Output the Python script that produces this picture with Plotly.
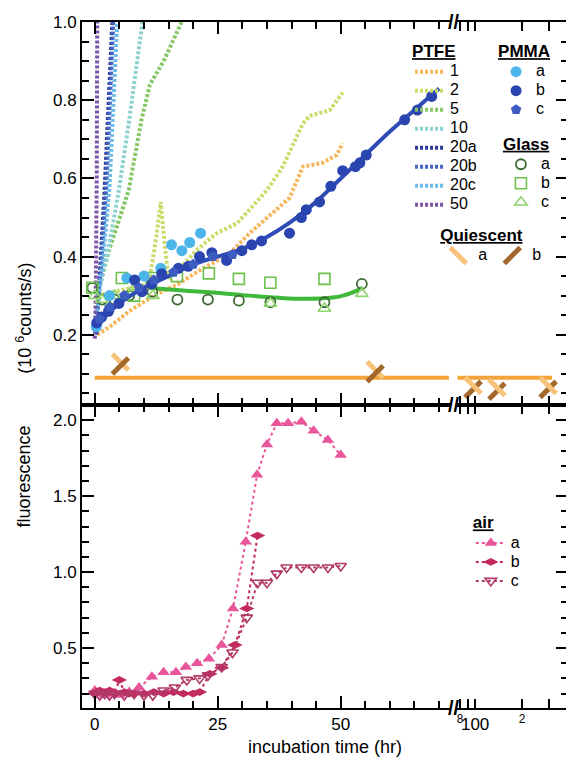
import plotly.graph_objects as go

# ---------------- data (hours, 10^6 counts/s) ----------------
# PTFE runs (dotted lines)
ptfe1_x = [0.5, 3, 7, 12, 17, 22, 25, 28, 31.5, 35, 39.6, 42.3, 46.3, 49.2, 50.4]
ptfe1_y = [0.20, 0.22, 0.26, 0.30, 0.33, 0.37, 0.39, 0.415, 0.46, 0.50, 0.55, 0.63, 0.64, 0.66, 0.69]
ptfe2_x = [0.5, 4, 8, 11, 12.5, 13.4, 14.3, 15, 18, 21, 24.8, 28.9, 31.5, 35, 38.2, 42.3, 43.7, 47.8, 50.4]
ptfe2_y = [0.30, 0.31, 0.32, 0.33, 0.45, 0.54, 0.42, 0.34, 0.38, 0.42, 0.46, 0.485, 0.52, 0.57, 0.63, 0.74, 0.76, 0.775, 0.82]
ptfe5_x = [0.5, 3, 6.9, 9.5, 11.2, 14, 18.0]
ptfe5_y = [0.30, 0.42, 0.57, 0.75, 0.84, 0.90, 1.01]
ptfe10_x = [0.5, 2.5, 4.9, 7, 9.8]
ptfe10_y = [0.30, 0.40, 0.57, 0.75, 1.01]
ptfe20a_x = [0.3, 1, 2, 3.6]
ptfe20a_y = [0.20, 0.35, 0.57, 1.01]
ptfe20b_x = [0.2, 1.2, 2.3, 3.8]
ptfe20b_y = [0.24, 0.36, 0.57, 1.01]
ptfe20c_x = [0.5, 1.6, 3.0, 4.6]
ptfe20c_y = [0.26, 0.38, 0.58, 1.01]
ptfe50_x = [0.0, 0.2, 0.4, 0.5]
ptfe50_y = [0.19, 0.30, 0.60, 1.01]

# PMMA (filled markers)
pmma_a_x = [0.3, 3, 6.5, 10, 13.4, 15.6, 17.7, 19.3, 21.5]
pmma_a_y = [0.22, 0.30, 0.345, 0.35, 0.37, 0.43, 0.415, 0.436, 0.46]
pmma_b_x = [0.4, 1.4, 2.8, 4.9, 8.1, 9.6, 11.6, 13.6, 17, 19, 21.3, 23.8, 26.8, 29.9, 31.9,
            33.9, 39.6, 42, 43, 45.7, 48, 50.4, 53, 53.9, 55.2, 63, 65.6, 68.5]
pmma_b_y = [0.23, 0.245, 0.26, 0.28, 0.34, 0.31, 0.33, 0.356, 0.37, 0.375, 0.40, 0.41, 0.39, 0.415, 0.43,
            0.44, 0.46, 0.50, 0.52, 0.54, 0.58, 0.62, 0.63, 0.64, 0.66, 0.75, 0.775, 0.81]
pmma_c_x = [1, 3, 6, 9, 12, 16, 20, 24, 28]
pmma_c_y = [0.24, 0.27, 0.30, 0.32, 0.34, 0.36, 0.38, 0.40, 0.405]
pmma_fit_x = [0, 5, 10, 15, 20, 25, 30, 35, 40, 45, 50, 55, 60, 65, 70]
pmma_fit_y = [0.22, 0.28, 0.32, 0.35, 0.38, 0.40, 0.42, 0.45, 0.49, 0.54, 0.60, 0.66, 0.72, 0.775, 0.83]

# Glass (open markers)
glass_a_x = [-0.5, 1.5, 4, 7, 11.7, 16.8, 23, 29.3, 35.7, 46.7, 54.3]
glass_a_y = [0.32, 0.29, 0.29, 0.30, 0.31, 0.29, 0.29, 0.287, 0.283, 0.283, 0.33]
glass_b_x = [-0.5, 5.5, 8, 11.6, 16.7, 23.2, 29.3, 35.7, 46.7]
glass_b_y = [0.32, 0.345, 0.30, 0.345, 0.35, 0.357, 0.343, 0.333, 0.343]
glass_c_x = [0, 1.4, 4, 8.1, 11.8, 35.7, 46.7, 54.3]
glass_c_y = [0.30, 0.29, 0.30, 0.32, 0.30, 0.28, 0.267, 0.305]
glass_fit_x = [11, 17.9, 24, 31.5, 41.7, 48.4, 51, 53.3, 54.5]
glass_fit_y = [0.32, 0.313, 0.308, 0.30, 0.292, 0.295, 0.302, 0.313, 0.32]

# Quiescent
quies_lin_x = [5.2, 57]
quies_a_lin_y = [0.13, 0.11]
quies_b_lin_y = [0.12, 0.10]
quies_log_x = [97, 138, 294]
quies_a_log_y = [0.07, 0.065, 0.07]
quies_b_log_y = [0.06, 0.055, 0.06]
quies_fit_lin_x = [0, 72]
quies_fit_log_x = [77, 312]
quies_fit_level = 0.09

# Air (bottom panel)
air_a_x = [0, 1, 2, 3, 4, 5, 6, 7, 9, 11.6, 14, 16.5, 18.5, 20.8, 23.2, 25.8, 28.1, 30.7,
           33, 35, 37, 39.3, 42, 44.5, 47.4, 50]
air_a_y = [0.22, 0.20, 0.19, 0.21, 0.20, 0.19, 0.20, 0.21, 0.24, 0.31, 0.34, 0.34, 0.375, 0.40,
           0.43, 0.52, 0.76, 1.20, 1.64, 1.84, 1.98, 1.98, 1.99, 1.93, 1.87, 1.77]
air_b_x = [0, 1, 2, 3, 4, 5, 6, 7, 8, 10, 12, 14, 16, 18, 20, 21.3, 23.4, 25.8, 28.5, 30.9, 33.1]
air_b_y = [0.20, 0.22, 0.21, 0.22, 0.20, 0.29, 0.21, 0.20, 0.20, 0.20, 0.21, 0.20, 0.21, 0.20,
           0.20, 0.21, 0.33, 0.37, 0.52, 0.76, 1.24]
air_c_x = [0, 1, 2, 3, 4, 6, 8, 10, 11.8, 14, 16.3, 18.7, 21.3, 23, 25.8, 28, 30.9, 33.1, 35,
           37, 39, 42, 44.5, 47.4, 50]
air_c_y = [0.20, 0.19, 0.20, 0.19, 0.20, 0.19, 0.20, 0.19, 0.19, 0.22, 0.24, 0.29, 0.30, 0.32,
           0.375, 0.47, 0.70, 0.93, 0.93, 0.99, 1.03, 1.03, 1.03, 1.03, 1.04]

# axis tick labels (log segment after the break)
log_tickvals = [80, 90, 100, 200, 300]
log_ticktext = ["<sup>8</sup>", " ", "100", "<sup>2</sup>", " "]

FONT = "Liberation Sans, Arial, Helvetica, sans-serif"
DOT = "3px,2px"


def lbl(s):
    # legend label drawn larger than the (compact) legend row height
    return "<span style='font-size:16px'>" + s + "</span>"


fig = go.Figure()


def ptfe(x, y, name, color):
    fig.add_trace(go.Scatter(x=x, y=y, mode="lines", name=lbl(name), xaxis="x3", yaxis="y2",
                             line=dict(color=color, width=4, dash=DOT), legend="legend"))


ptfe(ptfe1_x, ptfe1_y, "1", "#f6b65c")
ptfe(ptfe2_x, ptfe2_y, "2", "#cddb6a")
ptfe(ptfe5_x, ptfe5_y, "5", "#86c866")
ptfe(ptfe10_x, ptfe10_y, "10", "#8ed2cf")
ptfe(ptfe20a_x, ptfe20a_y, "20a", "#2c3a96")
ptfe(ptfe20b_x, ptfe20b_y, "20b", "#4466c4")
ptfe(ptfe20c_x, ptfe20c_y, "20c", "#6cbbe8")
ptfe(ptfe50_x, ptfe50_y, "50", "#7c55a8")

# Quiescent fit line (both x segments)
fig.add_trace(go.Scatter(x=quies_fit_lin_x, y=[quies_fit_level] * 2, mode="lines", showlegend=False,
                         xaxis="x3", yaxis="y2", line=dict(color="#f2a43a", width=4)))
fig.add_trace(go.Scatter(x=quies_fit_log_x, y=[quies_fit_level] * 2, mode="lines", showlegend=False,
                         xaxis="x4", yaxis="y4", line=dict(color="#f2a43a", width=4)))
qa = dict(symbol="line-nw", size=16, color="#f7c27a", line=dict(color="#f7c27a", width=5))
qb = dict(symbol="line-ne", size=16, color="#a2682c", line=dict(color="#a2682c", width=5))
fig.add_trace(go.Scatter(x=quies_lin_x, y=quies_a_lin_y, mode="markers", name=lbl("a"), marker=qa,
                         xaxis="x3", yaxis="y2", legend="legend4"))
fig.add_trace(go.Scatter(x=quies_lin_x, y=quies_b_lin_y, mode="markers", name=lbl("b"), marker=qb,
                         xaxis="x3", yaxis="y2", legend="legend4"))
fig.add_trace(go.Scatter(x=quies_log_x, y=quies_b_log_y, mode="markers", showlegend=False, marker=qb,
                         xaxis="x4", yaxis="y4"))
fig.add_trace(go.Scatter(x=quies_log_x, y=quies_a_log_y, mode="markers", showlegend=False, marker=qa,
                         xaxis="x4", yaxis="y4"))

# Glass
fig.add_trace(go.Scatter(x=glass_fit_x, y=glass_fit_y, mode="lines", showlegend=False, xaxis="x3",
                         yaxis="y2", line=dict(color="#3fb83a", width=4, shape="spline")))
fig.add_trace(go.Scatter(x=glass_a_x, y=glass_a_y, mode="markers", name=lbl("a"), xaxis="x3", yaxis="y2",
                         legend="legend3",
                         marker=dict(symbol="circle-open", size=10, color="#3d6a34", line=dict(width=1.8))))
fig.add_trace(go.Scatter(x=glass_b_x, y=glass_b_y, mode="markers", name=lbl("b"), xaxis="x3", yaxis="y2",
                         legend="legend3",
                         marker=dict(symbol="square-open", size=11, color="#6cc04c", line=dict(width=1.6))))
fig.add_trace(go.Scatter(x=glass_c_x, y=glass_c_y, mode="markers", name=lbl("c"), xaxis="x3", yaxis="y2",
                         legend="legend3",
                         marker=dict(symbol="triangle-up-open", size=11, color="#8fd46c", line=dict(width=1.6))))

# PMMA
fig.add_trace(go.Scatter(x=pmma_a_x, y=pmma_a_y, mode="markers", name=lbl("a"), xaxis="x3", yaxis="y2",
                         legend="legend2", marker=dict(symbol="circle", size=11, color="#4cb6ea")))
fig.add_trace(go.Scatter(x=pmma_fit_x, y=pmma_fit_y, mode="lines", showlegend=False, xaxis="x3",
                         yaxis="y2", line=dict(color="#2e4cb6", width=4, shape="spline")))
fig.add_trace(go.Scatter(x=pmma_b_x, y=pmma_b_y, mode="markers", name=lbl("b"), xaxis="x3", yaxis="y2",
                         legend="legend2", marker=dict(symbol="circle", size=11, color="#2a44b0")))
fig.add_trace(go.Scatter(x=pmma_c_x, y=pmma_c_y, mode="markers", name=lbl("c"), xaxis="x3", yaxis="y2",
                         legend="legend2", marker=dict(symbol="pentagon", size=11, color="#3d5cc0")))

# Air (bottom)
fig.add_trace(go.Scatter(x=air_a_x, y=air_a_y, mode="lines+markers", name=lbl("a"), xaxis="x", yaxis="y",
                         legend="legend5", line=dict(color="#e8559a", width=2, dash="dot"),
                         marker=dict(symbol="triangle-up", size=11, color="#e8559a")))
fig.add_trace(go.Scatter(x=air_b_x, y=air_b_y, mode="lines+markers", name=lbl("b"), xaxis="x", yaxis="y",
                         legend="legend5", line=dict(color="#c22a60", width=2, dash="dot"),
                         marker=dict(symbol="diamond-wide", size=11, color="#c22a60")))
fig.add_trace(go.Scatter(x=air_c_x, y=air_c_y, mode="lines+markers", name=lbl("c"), xaxis="x", yaxis="y",
                         legend="legend5", line=dict(color="#b23a68", width=2, dash="dot"),
                         marker=dict(symbol="triangle-down-open", size=10, color="#b23a68",
                                     line=dict(width=1.6))))
# invisible trace so the bottom-right (log) subplot exists
fig.add_trace(go.Scatter(x=[100], y=[1.0], mode="markers", showlegend=False, hoverinfo="skip",
                         xaxis="x2", yaxis="y3", marker=dict(opacity=0)))

tickfont = dict(family=FONT, size=17, color="black")
lin_dom = [0, 0.759]
log_dom = [0.772, 1]
split = 0.4417

common_x = dict(showline=True, linecolor="black", linewidth=2, mirror="ticks", ticks="inside",
                tickcolor="black", tickwidth=2, showgrid=False, zeroline=False, tickfont=tickfont)
common_y = dict(showline=True, linecolor="black", linewidth=2, ticks="inside", tickcolor="black",
                tickwidth=2, showgrid=False, zeroline=False, tickfont=tickfont)
minor_x = dict(dtick=5, tick0=0, ticklen=7, ticks="inside", tickcolor="black", tickwidth=2)
minor_yb = dict(dtick=0.1, tick0=0, ticklen=7, ticks="inside", tickcolor="black", tickwidth=2)
minor_yt = dict(dtick=0.05, tick0=0, ticklen=7, ticks="inside", tickcolor="black", tickwidth=2)

# page body has an 8px margin, so the figure is offset by 8px; compensate in size/margins
fig.update_layout(
    width=566, height=752,
    margin=dict(l=74, r=6, t=14, b=52, autoexpand=False),
    paper_bgcolor="white", plot_bgcolor="white",
    font=dict(family=FONT, size=16, color="black"),
    xaxis=dict(domain=lin_dom, anchor="y", range=[-2.6, 72.4], dtick=25, tick0=0, ticklen=12,
               minor=minor_x, **common_x),
    xaxis2=dict(domain=log_dom, anchor="y3", type="log", range=[1.885, 2.596], tickmode="array",
                tickvals=log_tickvals, ticktext=log_ticktext, ticklen=9, tickangle=0, **common_x),
    xaxis3=dict(domain=lin_dom, anchor="y2", matches="x", showticklabels=False, dtick=25, tick0=0,
                ticklen=12, minor=minor_x, **common_x),
    xaxis4=dict(domain=log_dom, anchor="y4", type="log", range=[1.885, 2.596], showticklabels=False,
                tickmode="array", tickvals=log_tickvals, ticklen=9, **common_x),
    yaxis=dict(domain=[0, split], anchor="x", range=[0.105, 2.1], dtick=0.5, tick0=0,
               tickformat=".1f", ticklen=12, minor=minor_yb, **common_y),
    yaxis2=dict(domain=[split, 1], anchor="x3", range=[0.02, 1.0005], dtick=0.2, tick0=0,
                tickformat=".1f", ticklen=12, minor=minor_yt, **common_y),
    yaxis3=dict(domain=[0, split], anchor="x2", side="right", range=[0.105, 2.1], dtick=0.5, tick0=0,
                showticklabels=False, ticklen=12, minor=minor_yb, **common_y),
    yaxis4=dict(domain=[split, 1], anchor="x4", side="right", range=[0.02, 1.0005], dtick=0.2, tick0=0,
                showticklabels=False, ticklen=12, minor=minor_yt, **common_y),
)

title_font = dict(family=FONT, size=17, color="black", weight="bold", lineposition="under")
item_font = dict(family=FONT, size=12, color="black")
leg_common = dict(bgcolor="rgba(0,0,0,0)", borderwidth=0, font=item_font, itemwidth=30,
                  tracegroupgap=0, xanchor="left", yanchor="top")
fig.update_layout(
    legend=dict(x=0.675, y=0.981, title=dict(text="PTFE", font=title_font), **leg_common),
    legend2=dict(x=0.852, y=0.981, title=dict(text="PMMA", font=title_font), **leg_common),
    legend3=dict(x=0.862, y=0.846, title=dict(text="Glass", font=title_font), **leg_common),
    legend4=dict(x=0.733, y=0.713, orientation="h",
                 title=dict(text="Quiescent", font=title_font, side="top"), **leg_common),
    legend5=dict(x=0.8, y=0.294, title=dict(text="air", font=title_font), **leg_common),
)

ann_font = dict(family=FONT, size=18, color="black")
annotations = [
    dict(text="incubation time (hr)", x=0.5, y=-0.057, xref="paper", yref="paper",
         showarrow=False, font=ann_font, xanchor="center", yanchor="middle"),
    dict(text="fluorescence", x=-0.12, y=0.337, xref="paper", yref="paper", textangle=-90,
         showarrow=False, font=ann_font, xanchor="center", yanchor="middle"),
    dict(text="(10 <sup>6</sup>counts/s)", x=-0.12, y=0.5685, xref="paper", yref="paper", textangle=-90,
         showarrow=False, font=ann_font, xanchor="center", yanchor="middle"),
]
for yb in [1.0, split, 0.0]:
    annotations.append(dict(text="<b>//</b>", x=0.765, y=yb, xref="paper", yref="paper",
                            showarrow=False, font=dict(family=FONT, size=20, color="black"),
                            xanchor="center", yanchor="middle", bgcolor="rgba(0,0,0,0)"))
fig.update_layout(annotations=annotations)

fig.write_html("out.html")
